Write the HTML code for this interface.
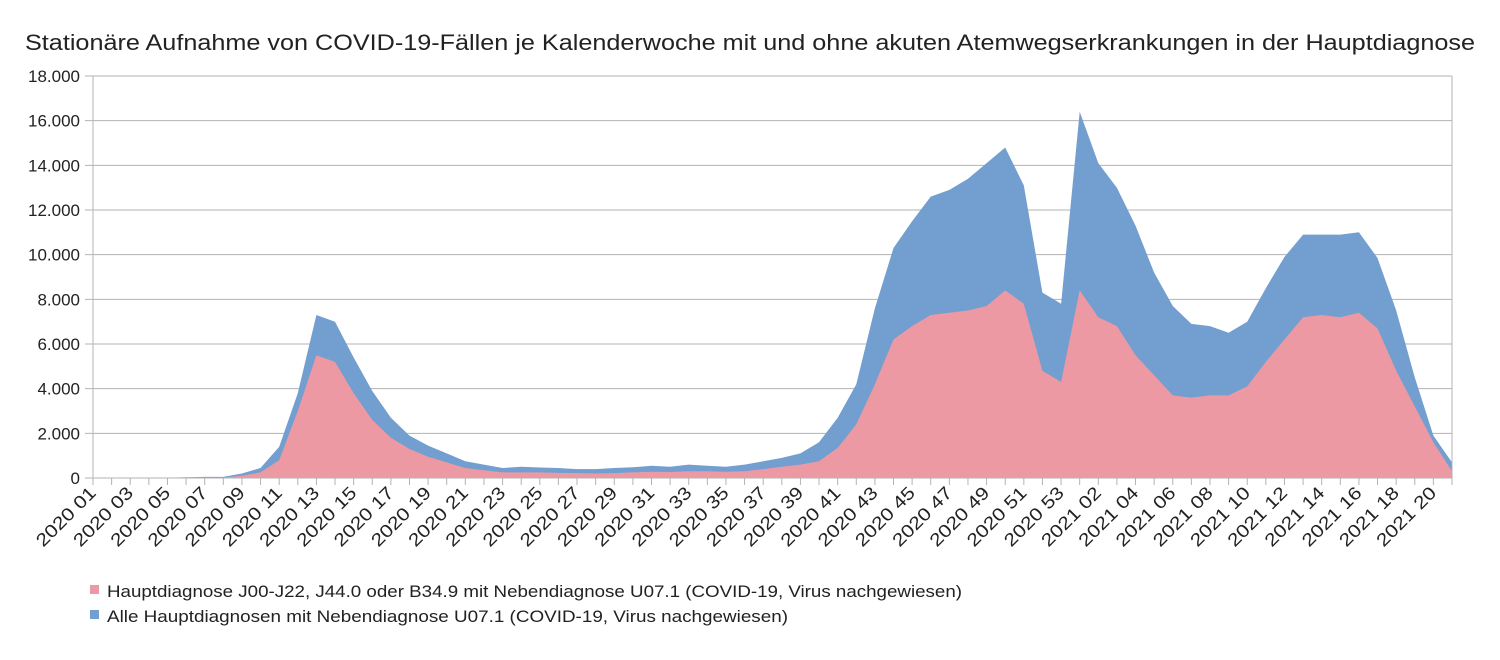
<!DOCTYPE html>
<html><head><meta charset="utf-8"><style>
body{margin:0;background:#fff;width:1500px;height:660px;overflow:hidden}
svg{display:block}
text{font-family:"Liberation Sans",sans-serif;fill:#222}
</style></head><body>
<svg id="s" width="1500" height="660" xmlns="http://www.w3.org/2000/svg">
<text x="750" y="50" font-size="22.5" text-anchor="middle" textLength="1450" lengthAdjust="spacingAndGlyphs">Stationäre Aufnahme von COVID-19-Fällen je Kalenderwoche mit und ohne akuten Atemwegserkrankungen in der Hauptdiagnose</text>
<g id="grid"></g>
<path id="blue" fill="#729fcf"/>
<path id="pink" fill="#ec99a4"/>
<g id="axes"></g>
<rect x="90" y="585" width="9" height="9" fill="#ec99a4"/>
<text x="107" y="597" font-size="16.5" textLength="855" lengthAdjust="spacingAndGlyphs">Hauptdiagnose J00-J22, J44.0 oder B34.9 mit Nebendiagnose U07.1 (COVID-19, Virus nachgewiesen)</text>
<rect x="90" y="610" width="9" height="9" fill="#729fcf"/>
<text x="107" y="622" font-size="16.5" textLength="681" lengthAdjust="spacingAndGlyphs">Alle Hauptdiagnosen mit Nebendiagnose U07.1 (COVID-19, Virus nachgewiesen)</text>
</svg>
<script>
var tot=[0,0,0,0,0.02,0.03,0.05,0.05,0.2,0.45,1.4,3.8,7.3,7.0,5.4,3.9,2.7,1.9,1.45,1.1,0.75,0.6,0.45,0.5,0.47,0.45,0.4,0.4,0.45,0.48,0.55,0.5,0.6,0.55,0.5,0.6,0.75,0.9,1.1,1.6,2.7,4.2,7.6,10.3,11.5,12.6,12.9,13.4,14.1,14.8,13.1,8.3,7.8,16.4,14.1,13.0,11.3,9.2,7.7,6.9,6.8,6.5,7.0,8.5,9.9,10.9,10.9,10.9,11.0,9.85,7.5,4.5,1.9,0.7];
var pk=[0,0,0,0,0,0,0.01,0.02,0.1,0.25,0.8,3.0,5.5,5.2,3.8,2.6,1.8,1.3,0.95,0.7,0.45,0.35,0.25,0.25,0.25,0.23,0.22,0.2,0.22,0.25,0.28,0.27,0.3,0.3,0.28,0.3,0.4,0.5,0.6,0.75,1.35,2.4,4.2,6.2,6.8,7.3,7.4,7.5,7.7,8.4,7.8,4.8,4.3,8.4,7.2,6.8,5.5,4.6,3.7,3.6,3.7,3.7,4.1,5.2,6.2,7.2,7.3,7.2,7.4,6.7,4.8,3.2,1.6,0.3];
var X0=93,X1=1452,N=tot.length,dx=(X1-X0)/(N-1);
function Y(v){return 478-v*22.333;}
function area(a){var d="M"+X0+" 478";for(var i=0;i<N;i++)d+=" L"+(X0+i*dx).toFixed(1)+" "+Y(a[i]).toFixed(1);return d+" L"+X1+" 478Z";}
document.getElementById("blue").setAttribute("d",area(tot));
document.getElementById("pink").setAttribute("d",area(pk));
var g="";
for(var k=0;k<=9;k++){var y=Y(k*2);
 if(k>0)g+='<line x1="'+(X0-8)+'" x2="'+X1+'" y1="'+y+'" y2="'+y+'" stroke="#b3b3b3" stroke-width="1"/>';
 g+='<text x="80" y="'+(y+6)+'" font-size="17" text-anchor="end">'+(k==0?"0":(k*2)+".000")+'</text>';}
document.getElementById("grid").innerHTML=g;
var a='<line x1="'+X0+'" x2="'+X0+'" y1="76" y2="478" stroke="#b3b3b3"/><line x1="'+X1+'" x2="'+X1+'" y1="76" y2="478" stroke="#b3b3b3"/><line x1="'+(X0-8)+'" x2="'+X1+'" y1="478" y2="478" stroke="#b3b3b3"/>';
for(var i=0;i<N;i++){var x=X0+i*dx;a+='<line x1="'+x+'" x2="'+x+'" y1="478" y2="485" stroke="#b3b3b3"/>';
 var lab=null;if(i<53){if(i%2==0)lab="2020 "+String(i+1).padStart(2,"0");}else{var w=i-52;if(w%2==0&&w<=20)lab="2021 "+String(w).padStart(2,"0");}
 if(lab)a+='<text x="'+(x+4)+'" y="494" font-size="18" text-anchor="end" textLength="76" lengthAdjust="spacingAndGlyphs" transform="rotate(-45 '+(x+4)+' 494)">'+lab+'</text>';}
document.getElementById("axes").innerHTML=a;
</script>
</body></html>
